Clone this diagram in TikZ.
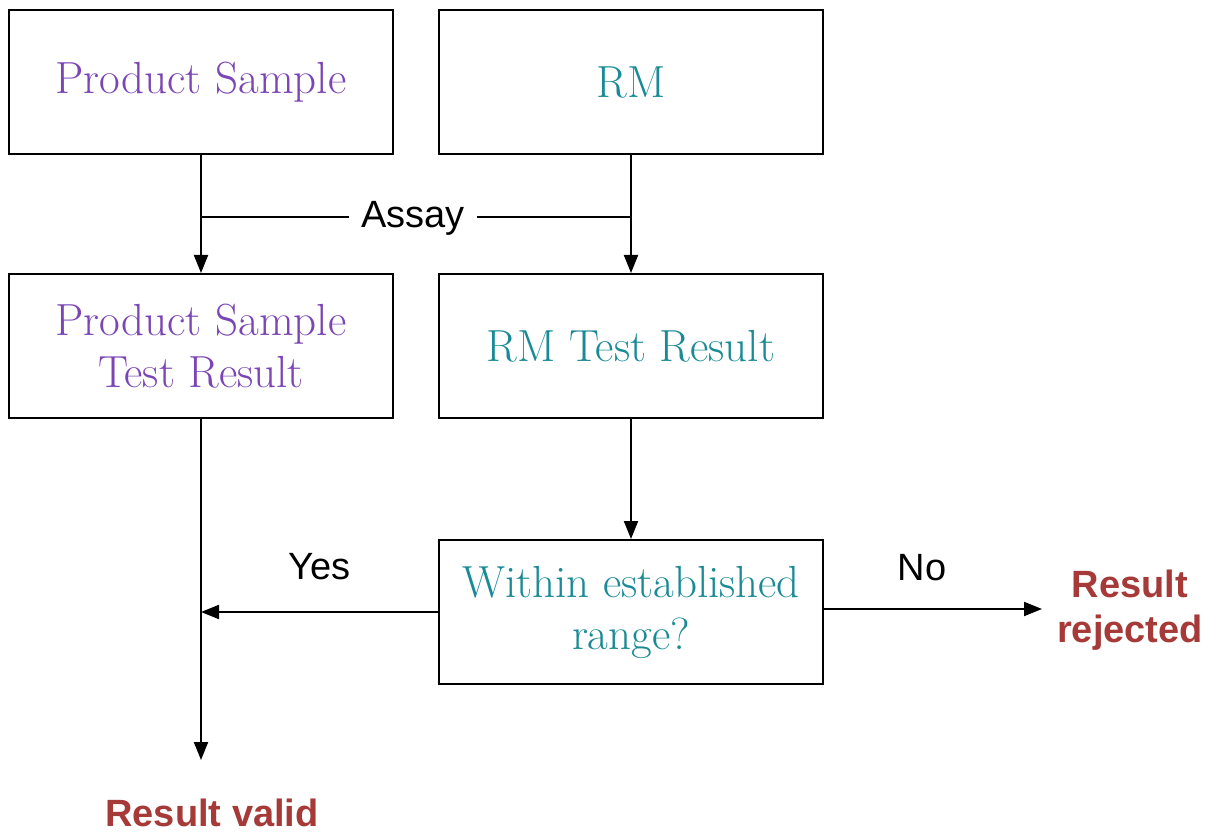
\documentclass[tikz,border=0pt]{standalone}
\usepackage{fontspec}
\newfontfamily\labelfont{Liberation Sans}
\usetikzlibrary{arrows.meta, positioning}
\definecolor{psPurple}{HTML}{7B45B5}
\definecolor{rmTeal}{HTML}{1A8A96}
\definecolor{resRed}{HTML}{A63A38}

\begin{document}
\begin{tikzpicture}[
    x=0.5pt, y=-0.5pt,
    node distance=59pt and 22pt,
    box/.style={rectangle, draw, line width=1pt, minimum width=192pt, minimum height=72pt, align=center, font=\fontsize{22.5}{26}\selectfont},
    lbl/.style={font=\labelfont\fontsize{19}{22}\selectfont},
    result/.style={font=\labelfont\bfseries\fontsize{19}{22.5}\selectfont, text=resRed, align=center},
    arrow/.style={-{Triangle[length=9pt, width=7pt]}, line width=1pt}
]
    \useasboundingbox (0,0) rectangle (1216,834);
    % Boxes
    \node[box, text=psPurple] (ps) at (201,82) {Product Sample};
    \node[box, text=rmTeal, right=of ps] (rm) {RM};
    \node[box, text=psPurple, below=of ps] (psres) {Product Sample\\Test Result};
    \node[box, text=rmTeal, below=of rm] (rmres) {RM Test Result};
    \node[box, text=rmTeal, below=60pt of rmres] (range) {Within established\\range?};

    % Outcomes
    \node[result] (rejected) at (1130,610) {Result\\rejected};
    \node[result] (valid) at (212,813) {Result valid};
    \coordinate (validend) at (psres.south |- 0,760);
    \coordinate (rejstart) at ([yshift=1.5pt]range.east);
    \coordinate (rejend) at (1042,0 |- rejstart);
    \coordinate (yesend) at (psres.south |- range.west);

    % Arrows
    \draw[arrow] (ps) -- (psres);
    \draw[arrow] (rm) -- (rmres);
    \draw[line width=1pt] (ps.south |- 0,217) -- (rm.south |- 0,217);
    \node[lbl, fill=white, inner xsep=6pt] (assay) at (413,218) {Assay};
    \draw[arrow] (rmres) -- (range);
    \draw[arrow] (psres) -- (validend);
    \draw[arrow] (range.west) -- (yesend) node[lbl, pos=0.5, above=12pt] {Yes};
    \draw[arrow] (rejstart) -- (rejend) node[lbl, pos=0.45, above=10pt] {No};
\end{tikzpicture}
\end{document}
